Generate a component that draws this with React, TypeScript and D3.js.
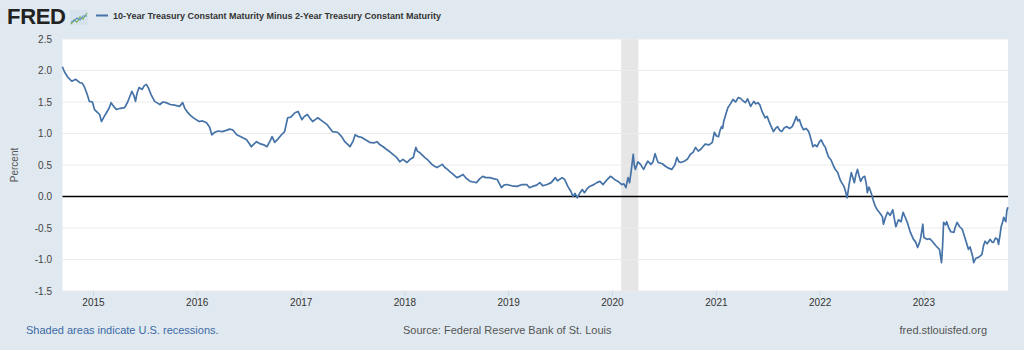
import React from "react";
import * as d3 from "d3";

// 10Y minus 2Y treasury spread (decimal year, percent)
const obsYears = [
  2014.70, 2014.72, 2014.75, 2014.79, 2014.83, 2014.865, 2014.89, 2014.91, 2014.94, 2014.96, 2014.99,
  2015.01, 2015.04, 2015.06, 2015.077, 2015.10, 2015.125, 2015.15, 2015.17, 2015.195, 2015.22, 2015.26,
  2015.30, 2015.33, 2015.37, 2015.39, 2015.405, 2015.42, 2015.44, 2015.47, 2015.49, 2015.51, 2015.53,
  2015.56, 2015.59, 2015.61, 2015.64, 2015.67, 2015.70, 2015.74, 2015.78, 2015.83, 2015.86, 2015.88,
  2015.91, 2015.94, 2015.97, 2016.02, 2016.05, 2016.09, 2016.12, 2016.14, 2016.17, 2016.20, 2016.24,
  2016.28, 2016.31, 2016.34, 2016.38, 2016.42, 2016.475, 2016.50, 2016.52, 2016.545, 2016.57, 2016.60,
  2016.64, 2016.67, 2016.70, 2016.72, 2016.745, 2016.78, 2016.81, 2016.84, 2016.87, 2016.90, 2016.94,
  2016.97, 2017.006, 2017.03, 2017.06, 2017.085, 2017.11, 2017.135, 2017.16, 2017.20, 2017.25, 2017.30,
  2017.35, 2017.39, 2017.42, 2017.47, 2017.50, 2017.52, 2017.55, 2017.58, 2017.62, 2017.66, 2017.70,
  2017.73, 2017.76, 2017.79, 2017.82, 2017.855, 2017.89, 2017.92, 2017.95, 2017.98, 2018.02, 2018.05,
  2018.08, 2018.105, 2018.12, 2018.14, 2018.165, 2018.19, 2018.22, 2018.26, 2018.285, 2018.31, 2018.34,
  2018.36, 2018.385, 2018.41, 2018.43, 2018.46, 2018.50, 2018.53, 2018.56, 2018.59, 2018.63, 2018.66,
  2018.69, 2018.72, 2018.75, 2018.78, 2018.82, 2018.86, 2018.89, 2018.93, 2018.955, 2018.98, 2019.03,
  2019.08, 2019.13, 2019.175, 2019.20, 2019.23, 2019.27, 2019.30, 2019.33, 2019.37, 2019.41, 2019.45,
  2019.47, 2019.49, 2019.515, 2019.54, 2019.57, 2019.60, 2019.62, 2019.64, 2019.66, 2019.685, 2019.71,
  2019.73, 2019.755, 2019.78, 2019.81, 2019.85, 2019.88, 2019.91, 2019.945, 2019.98, 2020.00, 2020.02,
  2020.055, 2020.09, 2020.11, 2020.13, 2020.15, 2020.165, 2020.18, 2020.20, 2020.21, 2020.22, 2020.245,
  2020.27, 2020.30, 2020.32, 2020.34, 2020.37, 2020.39, 2020.41, 2020.43, 2020.44, 2020.48, 2020.51,
  2020.54, 2020.57, 2020.60, 2020.62, 2020.64, 2020.66, 2020.69, 2020.72, 2020.75, 2020.775, 2020.80,
  2020.825, 2020.85, 2020.87, 2020.89, 2020.93, 2020.96, 2020.98, 2021.00, 2021.02, 2021.035, 2021.05,
  2021.06, 2021.07, 2021.09, 2021.11, 2021.135, 2021.16, 2021.185, 2021.21, 2021.23, 2021.255, 2021.28,
  2021.30, 2021.33, 2021.36, 2021.38, 2021.40, 2021.42, 2021.44, 2021.455, 2021.47, 2021.49, 2021.505,
  2021.52, 2021.55, 2021.57, 2021.59, 2021.61, 2021.63, 2021.655, 2021.68, 2021.705, 2021.73, 2021.75,
  2021.77, 2021.785, 2021.80, 2021.82, 2021.84, 2021.865, 2021.89, 2021.91, 2021.93, 2021.95, 2021.97,
  2021.99, 2022.01, 2022.03, 2022.05, 2022.065, 2022.08, 2022.105, 2022.13, 2022.15, 2022.17, 2022.185,
  2022.20, 2022.215, 2022.23, 2022.245, 2022.26, 2022.28, 2022.30, 2022.315, 2022.33, 2022.345, 2022.36,
  2022.375, 2022.39, 2022.41, 2022.43, 2022.445, 2022.455, 2022.47, 2022.48, 2022.495, 2022.51, 2022.53,
  2022.55, 2022.57, 2022.60, 2022.61, 2022.63, 2022.65, 2022.675, 2022.70, 2022.715, 2022.73, 2022.755,
  2022.78, 2022.80, 2022.82, 2022.84, 2022.87, 2022.90, 2022.92, 2022.94, 2022.96, 2022.97, 2022.99,
  2023.00, 2023.03, 2023.055, 2023.08, 2023.10, 2023.12, 2023.15, 2023.17, 2023.18, 2023.19, 2023.21,
  2023.22, 2023.24, 2023.26, 2023.29, 2023.30, 2023.32, 2023.345, 2023.37, 2023.40, 2023.43, 2023.445,
  2023.46, 2023.47, 2023.48, 2023.50, 2023.52, 2023.54, 2023.56, 2023.575, 2023.59, 2023.61, 2023.64,
  2023.655, 2023.67, 2023.69, 2023.71, 2023.72, 2023.735, 2023.745, 2023.76, 2023.77, 2023.78, 2023.79,
  2023.80, 2023.81,
];

const spreadPct = [
  2.06, 1.98, 1.90, 1.83, 1.86, 1.81, 1.80, 1.75, 1.62, 1.51, 1.50,
  1.38, 1.33, 1.30, 1.19, 1.26, 1.33, 1.40, 1.49, 1.43, 1.38, 1.40,
  1.41, 1.50, 1.67, 1.60, 1.51, 1.64, 1.73, 1.70, 1.76, 1.78, 1.72,
  1.60, 1.51, 1.49, 1.46, 1.50, 1.49, 1.46, 1.45, 1.43, 1.49, 1.40,
  1.33, 1.28, 1.24, 1.19, 1.20, 1.17, 1.10, 0.98, 1.02, 1.04, 1.03,
  1.05, 1.07, 1.06, 0.98, 0.95, 0.90, 0.84, 0.79, 0.83, 0.87, 0.84,
  0.82, 0.79, 0.88, 0.95, 0.86, 0.92, 0.98, 1.03, 1.25, 1.26, 1.33,
  1.35, 1.22, 1.27, 1.30, 1.24, 1.19, 1.22, 1.25, 1.20, 1.14, 1.03,
  1.02, 0.95, 0.87, 0.79, 0.88, 0.98, 0.95, 0.94, 0.90, 0.86, 0.85,
  0.87, 0.82, 0.79, 0.75, 0.71, 0.66, 0.62, 0.55, 0.59, 0.54, 0.59,
  0.62, 0.78, 0.72, 0.70, 0.66, 0.62, 0.58, 0.51, 0.48, 0.46, 0.49,
  0.51, 0.46, 0.43, 0.40, 0.36, 0.30, 0.32, 0.35, 0.29, 0.24, 0.23,
  0.22, 0.28, 0.32, 0.30, 0.30, 0.28, 0.27, 0.14, 0.18, 0.19, 0.17,
  0.16, 0.19, 0.19, 0.14, 0.16, 0.18, 0.22, 0.17, 0.19, 0.22, 0.30,
  0.25, 0.27, 0.30, 0.27, 0.16, 0.08, 0.00, 0.05, -0.02, 0.05, 0.11,
  0.06, 0.12, 0.16, 0.18, 0.22, 0.24, 0.19, 0.26, 0.32, 0.30, 0.27,
  0.24, 0.19, 0.20, 0.14, 0.30, 0.22, 0.40, 0.67, 0.50, 0.43, 0.55,
  0.51, 0.43, 0.50, 0.56, 0.51, 0.55, 0.68, 0.58, 0.54, 0.52, 0.48,
  0.45, 0.43, 0.50, 0.62, 0.55, 0.54, 0.56, 0.59, 0.67, 0.70, 0.78,
  0.72, 0.75, 0.79, 0.83, 0.82, 0.86, 1.02, 0.96, 0.95, 1.05, 1.11,
  1.08, 1.19, 1.30, 1.41, 1.47, 1.54, 1.50, 1.57, 1.56, 1.52, 1.49,
  1.55, 1.43, 1.51, 1.47, 1.49, 1.45, 1.35, 1.30, 1.25, 1.27, 1.20,
  1.14, 1.03, 1.08, 1.11, 1.05, 1.03, 1.09, 1.11, 1.08, 1.11, 1.18,
  1.27, 1.20, 1.22, 1.12, 1.06, 1.08, 1.03, 0.92, 0.79, 0.82, 0.79,
  0.86, 0.90, 0.83, 0.78, 0.70, 0.63, 0.58, 0.48, 0.42, 0.38, 0.30,
  0.24, 0.20, 0.16, 0.08, -0.02, 0.20, 0.38, 0.30, 0.22, 0.35, 0.43,
  0.33, 0.24, 0.30, 0.32, 0.20, 0.06, 0.15, 0.11, 0.04, -0.05, -0.15,
  -0.21, -0.25, -0.32, -0.44, -0.33, -0.25, -0.30, -0.21, -0.35, -0.48, -0.37,
  -0.40, -0.25, -0.33, -0.41, -0.57, -0.68, -0.72, -0.81, -0.72, -0.65, -0.44,
  -0.65, -0.68, -0.67, -0.71, -0.75, -0.79, -0.84, -1.05, -0.80, -0.41, -0.45,
  -0.40, -0.50, -0.56, -0.57, -0.50, -0.41, -0.48, -0.52, -0.68, -0.84, -0.80,
  -0.89, -0.95, -1.05, -0.98, -0.97, -0.95, -0.92, -0.78, -0.71, -0.75, -0.68,
  -0.72, -0.73, -0.66, -0.68, -0.76, -0.60, -0.48, -0.40, -0.33, -0.37, -0.40,
  -0.22, -0.17,
];

const yTicks = [-1.5, -1.0, -0.5, 0.0, 0.5, 1.0, 1.5, 2.0, 2.5];
const xTickYears = [2015, 2016, 2017, 2018, 2019, 2020, 2021, 2022, 2023];
const recessions = [["2020-02-01", "2020-04-01"]];

function fromDecimalYear(y: number) {
  const yr = Math.floor(y);
  const start = Date.UTC(yr, 0, 1);
  const end = Date.UTC(yr + 1, 0, 1);
  return new Date(start + (y - yr) * (end - start));
}

const FONT = "'Liberation Sans', Arial, sans-serif";

export default function App() {
  const W = 1024, H = 350;
  const left = 62.5, right = 1008, top = 39, bottom = 291;

  const x = d3
    .scaleUtc()
    .domain([new Date(Date.UTC(2014, 8, 14)), new Date(Date.UTC(2023, 9, 24))])
    .range([left, right]);
  const y = d3.scaleLinear().domain([-1.5, 2.5]).range([bottom, top]);

  const data = obsYears.map((t, i) => ({ date: fromDecimalYear(t), v: spreadPct[i] }));
  const line = d3
    .line<{ date: Date; v: number }>()
    .x((d) => x(d.date))
    .y((d) => y(d.v));

  return (
    <svg
      width={W}
      height={H}
      style={{ position: "absolute", left: 0, top: 0, fontFamily: FONT }}
    >
      <rect x={0} y={0} width={W} height={H} fill="#e1e9f0" />

      {/* header */}
      <text x={7} y={24} fontSize={22} fontWeight="bold" fill="#222" letterSpacing={-0.3}>
        FRED
      </text>
      <g transform="translate(70,10)">
        <rect x={0} y={0} width={18} height={15} fill="#d7e3ec" />
        <polyline points="1,14 4,10 7,12 10,7 13,9 17,3" fill="none" stroke="#7fb55a" strokeWidth={1.3} />
        <polyline points="1,12 4,11 7,8 10,10 13,6 17,6" fill="none" stroke="#5b8fc9" strokeWidth={1.1} />
      </g>
      <line x1={96} x2={108} y1={15.5} y2={15.5} stroke="#4572a7" strokeWidth={2} />
      <text x={113} y={19} fontSize={9} fontWeight="bold" fill="#333">
        10-Year Treasury Constant Maturity Minus 2-Year Treasury Constant Maturity
      </text>

      {/* plot area */}
      <rect x={left} y={top} width={right - left} height={bottom - top} fill="#ffffff" />
      {recessions.map(([a, b]) => (
        <rect
          key={a}
          x={x(new Date(a))}
          y={top}
          width={x(new Date(b)) - x(new Date(a))}
          height={bottom - top}
          fill="#e6e6e6"
        />
      ))}
      {yTicks.map((t) => (
        <line
          key={t}
          x1={left}
          x2={right}
          y1={y(t)}
          y2={y(t)}
          stroke={t === 0 ? "#000" : "#ebebeb"}
          strokeWidth={t === 0 ? 1.5 : 1}
        />
      ))}
      <path d={line(data) ?? ""} fill="none" stroke="#4572a7" strokeWidth={1.7} strokeLinejoin="round" />

      {/* y axis */}
      {yTicks.map((t) => (
        <text key={t} x={52} y={y(t) + 3.5} fontSize={10} fill="#444" textAnchor="end">
          {t.toFixed(1)}
        </text>
      ))}
      <text
        transform={`translate(18,${(top + bottom) / 2}) rotate(-90)`}
        fontSize={10}
        fill="#555"
        textAnchor="middle"
      >
        Percent
      </text>

      {/* x axis */}
      {xTickYears.map((yr) => {
        const px = x(new Date(Date.UTC(yr, 0, 1)));
        return (
          <g key={yr}>
            <line x1={px} x2={px} y1={bottom} y2={bottom + 5} stroke="#ccd6eb" />
            <text x={px} y={306} fontSize={10} fill="#333" textAnchor="middle">
              {yr}
            </text>
          </g>
        );
      })}

      {/* footer */}
      <text x={26} y={334} fontSize={11} fill="#3d6aa5">
        Shaded areas indicate U.S. recessions.
      </text>
      <text x={403} y={334} fontSize={11} fill="#555">
        Source: Federal Reserve Bank of St. Louis
      </text>
      <text x={987} y={334} fontSize={11} fill="#555" textAnchor="end">
        fred.stlouisfed.org
      </text>
    </svg>
  );
}
